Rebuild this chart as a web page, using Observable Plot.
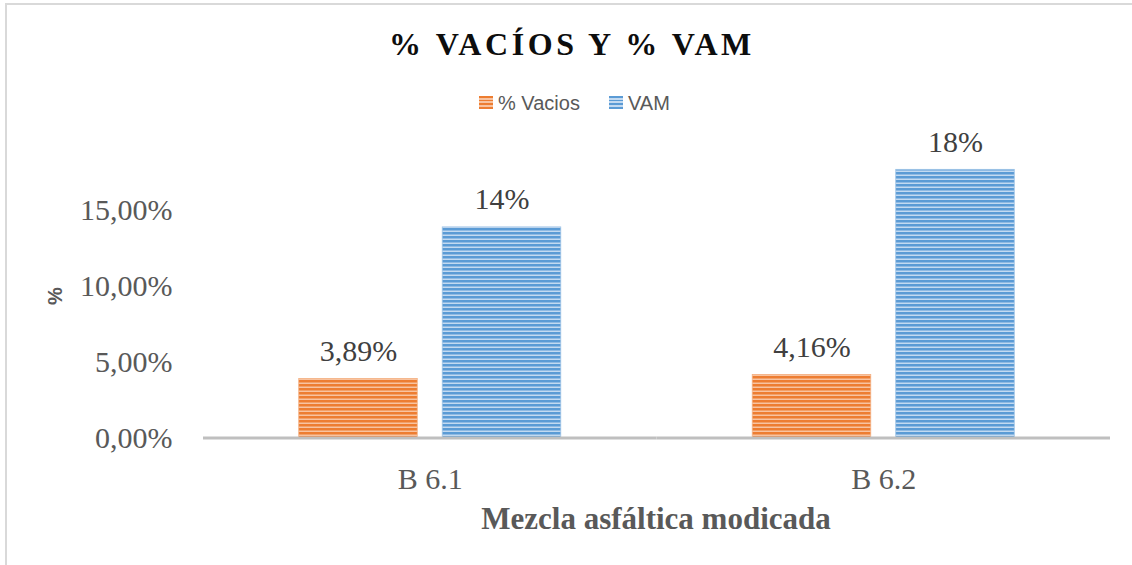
<!DOCTYPE html>
<html>
<head>
<meta charset="utf-8">
<script src="https://cdn.jsdelivr.net/npm/d3@7"></script>
<script src="https://cdn.jsdelivr.net/npm/@observablehq/plot@0.6"></script>
<style>
  html, body { margin: 0; padding: 0; background: #fff; }
  #wrap { position: relative; width: 1132px; height: 565px; overflow: hidden; background: #fff; }
  #frame { position: absolute; left: 5px; top: 3px; width: 1200px; height: 700px;
           border-left: 2px solid #d9d9d9; border-top: 2px solid #d9d9d9; pointer-events: none; }
  .abs { position: absolute; white-space: nowrap; line-height: 1; }
  #title { left: 72px; width: 1000px; top: 28px; text-align: center; font-family: "Liberation Serif", serif;
           font-weight: bold; font-size: 32px; letter-spacing: 3.6px; color: #0d0d0d; }
  .leg { font-family: "Liberation Sans", sans-serif; font-size: 20px; color: #595959; top: 93px; }
  .sw { position: absolute; width: 14px; height: 13px; top: 96px; }
  #ytitle { left: 54.5px; top: 296px; transform: translate(-50%, -50%) rotate(-90deg);
            font-family: "Liberation Sans", sans-serif; font-weight: bold; font-size: 20px; color: #595959; }
  #xtitle { left: 156px; width: 1000px; top: 503px; text-align: center; font-family: "Liberation Serif", serif;
            font-weight: bold; font-size: 31px; color: #595959; }
  #chart { position: absolute; left: 0; top: 120px; }
</style>
</head>
<body>
<div id="wrap">
  <svg width="0" height="0" style="position:absolute">
    <defs>
      <pattern id="hatchO" patternUnits="userSpaceOnUse" width="10" height="4">
        <rect x="0" y="0" width="10" height="4" fill="#f8c3a0"></rect>
        <rect x="0" y="0" width="10" height="2.5" fill="#ed7d31"></rect>
      </pattern>
      <pattern id="hatchB" patternUnits="userSpaceOnUse" width="10" height="4">
        <rect x="0" y="0" width="10" height="4" fill="#c3daf1"></rect>
        <rect x="0" y="0" width="10" height="2.5" fill="#5b9bd5"></rect>
      </pattern>
    </defs>
  </svg>
  <div id="chart"></div>
  <div id="frame"></div>
  <div id="title" class="abs">% VACÍOS Y % VAM</div>
  <div id="legend"></div>
  <div id="ytitle" class="abs">%</div>
  <div id="xtitle" class="abs">Mezcla asfáltica modicada</div>
</div>
<script>
// ---- data ----
const categories = ["B 6.1", "B 6.2"];
const seriesNames = ["% Vacios", "VAM"];
const vacios = [0.0389, 0.0416];
const vam = [0.139, 0.177];
const yTicks = [0, 0.05, 0.10, 0.15];
const seriesFill = ["url(#hatchO)", "url(#hatchB)"];
const seriesDecimals = [2, 0];

const rows = [];
categories.forEach((c, i) => {
  rows.push({cat: c, series: seriesNames[0], value: vacios[i]});
  rows.push({cat: c, series: seriesNames[1], value: vam[i]});
});
const fmtPct = (v, dec) => (v * 100).toFixed(dec).replace(".", ",") + "%";
rows.forEach(r => { r.label = fmtPct(r.value, seriesDecimals[seriesNames.indexOf(r.series)]); });

// ---- legend (HTML) ----
const legend = document.getElementById("legend");
const legPos = [{sw: 479, tx: 498}, {sw: 609, tx: 628}];
seriesNames.forEach((s, i) => {
  const sw = document.createElement("div");
  sw.className = "sw";
  sw.style.left = legPos[i].sw + "px";
  sw.style.background = i === 0
    ? "repeating-linear-gradient(to bottom, #ed7d31 0px, #ed7d31 2px, #f8c3a0 2px, #f8c3a0 3.5px)"
    : "repeating-linear-gradient(to bottom, #5b9bd5 0px, #5b9bd5 2px, #c3daf1 2px, #c3daf1 3.5px)";
  legend.appendChild(sw);
  const t = document.createElement("div");
  t.className = "abs leg";
  t.style.left = legPos[i].tx + "px";
  t.textContent = s;
  legend.appendChild(t);
});

// ---- chart ----
const serif = "Liberation Serif, Times New Roman, serif";
const chart = Plot.plot({
  width: 1132,
  height: 445,
  marginLeft: 203,
  marginRight: 22,
  marginTop: 44.8,
  marginBottom: 127.5,
  style: {background: "transparent", overflow: "visible"},
  fx: {domain: categories, padding: 0, round: false},
  x: {domain: seriesNames, paddingInner: 0.174, paddingOuter: 0.667, round: false, axis: null},
  y: {domain: [0, 0.18], axis: null},
  marks: [
    ...seriesNames.map((s, i) => Plot.barY(rows.filter(r => r.series === s), {
      fx: "cat", x: "series", y: "value",
      fill: seriesFill[i], stroke: i === 0 ? "#f4b183" : "#9dc3e6", strokeWidth: 0.8
    })),
    Plot.ruleY([0], {stroke: "#bfbfbf", strokeWidth: 3}),
    Plot.text(rows, {
      fx: "cat", x: "series", y: "value", text: "label",
      lineAnchor: "bottom", dy: -18,
      fontSize: 30, fontFamily: serif, fill: "#404040"
    }),
    Plot.axisY({
      ticks: yTicks, tickFormat: d => fmtPct(d, 2), tickSize: 0, tickPadding: 31,
      fontSize: 30, fontFamily: serif, fill: "#595959", label: null
    }),
    Plot.axisFx({
      anchor: "bottom", tickSize: 0, tickPadding: 30, fontSize: 30, fontFamily: serif, fill: "#595959", label: null
    })
  ]
});
document.getElementById("chart").appendChild(chart);
</script>
</body>
</html>
